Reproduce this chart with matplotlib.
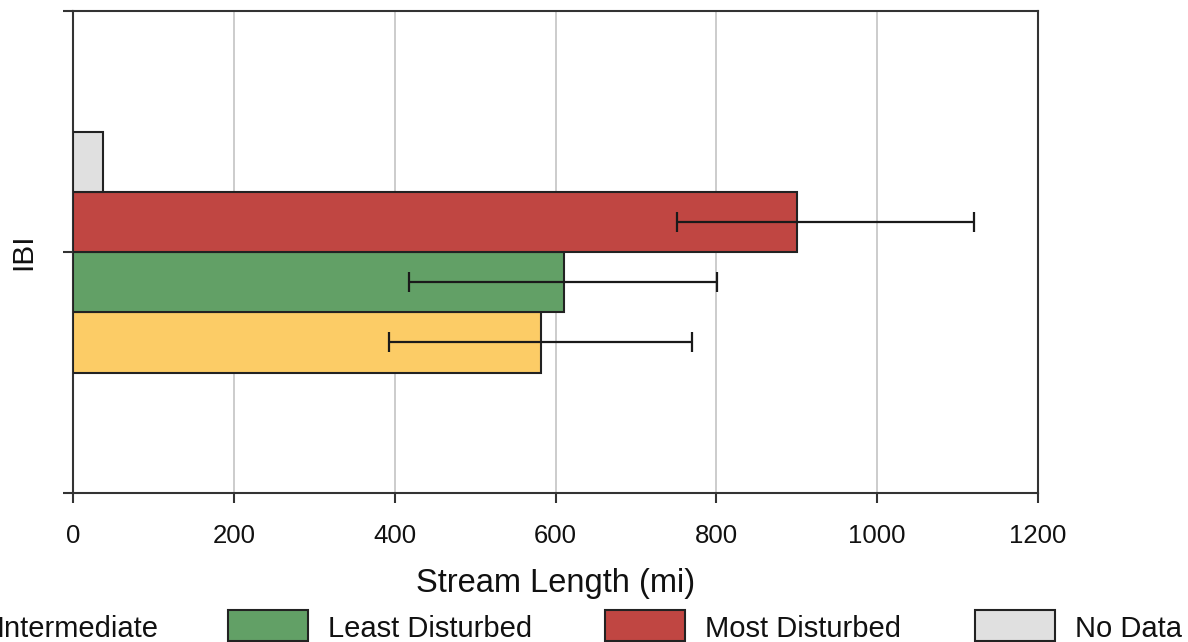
import matplotlib
matplotlib.use("Agg")
import matplotlib.pyplot as plt
from matplotlib.patches import Rectangle

plt.rcParams['font.family'] = ['Liberation Sans', 'DejaVu Sans']

# Stream length by IBI condition class (miles)
categories = ["Intermediate", "Least Disturbed", "Most Disturbed", "No Data"]
values = [582, 610, 900, 37]
err_low = [393, 418, 751, None]
err_high = [770, 801, 1121, None]
colors = ["#FCCC66", "#62A066", "#C04642", "#E0E0E0"]
group_label = "IBI"
x_ticks = [0, 200, 400, 600, 800, 1000, 1200]

W, H, DPI = 1188, 642, 100
fig = plt.figure(figsize=(W / DPI, H / DPI), dpi=DPI)
ax = fig.add_axes([73 / W, 1 - 493 / H, (1038 - 73) / W, (493 - 11) / H])

bar_h = 0.25
offsets = [-0.375, -0.125, 0.125, 0.375]
edge = "#222222"
for y, v, lo, hi, c in zip(offsets, values, err_low, err_high, colors):
    ax.barh(y, v, height=bar_h, color=c, edgecolor=edge, linewidth=1.5, zorder=3)
    if lo is not None:
        ax.errorbar(v, y, xerr=[[v - lo], [hi - v]], fmt="none", ecolor="#1a1a1a",
                    elinewidth=1.6, capsize=7.5, capthick=1.6, zorder=4)

ax.set_xlim(0, 1200)
ax.set_ylim(-1, 1)
ax.set_xticks(x_ticks)
ax.set_xticklabels([str(t) for t in x_ticks])
ax.set_yticks([-1, 0, 1])
ax.set_yticklabels(["", group_label, ""], rotation=90, va="center", fontsize=21.5)

ax.grid(axis="x", color="#c8c8c8", linewidth=1.3, zorder=0)
ax.set_axisbelow(True)
for s in ax.spines.values():
    s.set_color("#333333")
    s.set_linewidth(1.5)

ax.tick_params(axis="x", length=7.5, width=1.5, color="#333333", labelsize=18.5,
               pad=15, labelcolor="#111111")
ax.tick_params(axis="y", length=7.5, width=1.5, color="#333333", pad=18,
               labelcolor="#111111")
ax.set_xlabel("Stream Length (mi)", fontsize=23.5, labelpad=14, color="#111111")

# Legend row along the bottom edge, laid out in pixel coordinates
fig.canvas.draw()
renderer = fig.canvas.get_renderer()
patch_w, patch_h, text_gap = 80, 31, 20
leg_fs = 21
texts = []
widths = []
for lab in categories:
    t = fig.text(0, 0, lab, fontsize=leg_fs, color="#111111", va="baseline", ha="left")
    widths.append(t.get_window_extent(renderer).width)
    texts.append(t)
# first entry's label ends at x=158; the other boxes start at fixed columns
patch_left = [158 - widths[0] - text_gap - patch_w, 228, 605, 975]
yc = 625
baseline = 637
for t, x, c in zip(texts, patch_left, colors):
    fig.patches.append(Rectangle((x / W, (H - yc - patch_h / 2) / H), patch_w / W, patch_h / H,
                                 transform=fig.transFigure, facecolor=c, edgecolor=edge,
                                 linewidth=1.5))
    t.set_position(((x + patch_w + text_gap) / W, (H - baseline) / H))

fig.savefig("out.png", dpi=DPI)
